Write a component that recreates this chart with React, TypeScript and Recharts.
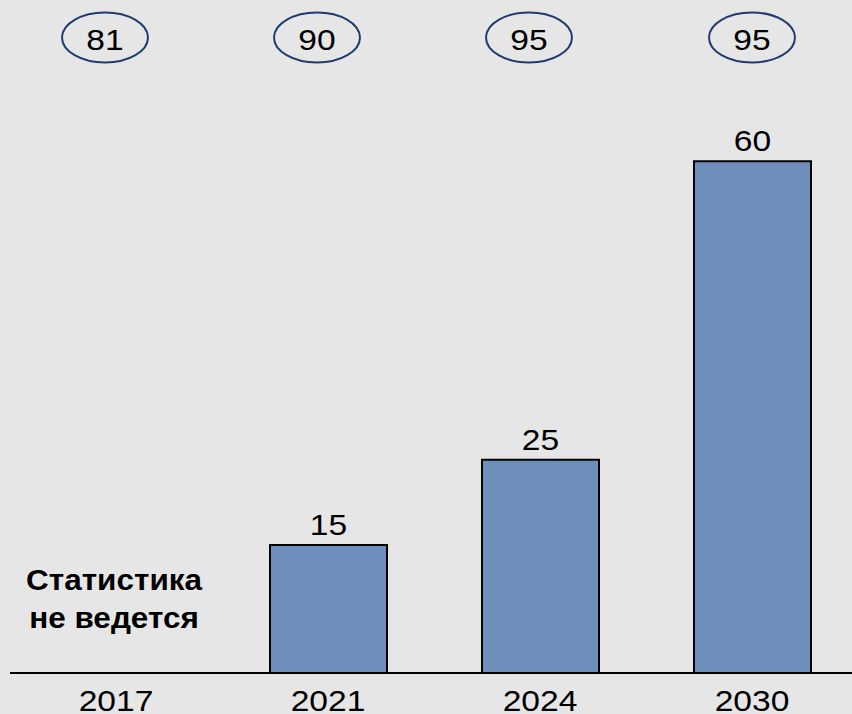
import React from 'react';
import { BarChart, Bar, XAxis, YAxis, LabelList } from 'recharts';

const years = ['2017', '2021', '2024', '2030'];
const barValues: (number | null)[] = [null, 15, 25, 60];
const topValues = [81, 90, 95, 95];
const noDataNote = ['Статистика', 'не ведется'];

const ellipseDx = [-11, -11, -11, 0];

const data = years.map((year, i) => ({ year, value: barValues[i], top: topValues[i] }));

const FONT = '"Liberation Sans", Arial, sans-serif';

const SText = ({ x, y, children, size = 30, sx = 1.12, bold = false }: any) => (
  <text
    transform={`translate(${x},${y}) scale(${sx},1)`}
    x={0}
    y={0}
    textAnchor="middle"
    fontSize={size}
    fontWeight={bold ? 'bold' : 'normal'}
    fontFamily={FONT}
    fill="#000"
  >
    {children}
  </text>
);

const BottomTick = (props: any) => {
  const { x, y, payload, index } = props;
  const v = barValues[index];
  return (
    <g>
      <SText x={x} y={y + 37.5}>{payload.value}</SText>
      {v == null && (
        <g>
          <SText x={x - 2} y={y - 83} size={30} sx={1.05} bold>{noDataNote[0]}</SText>
          <SText x={x - 2} y={y - 45} size={30} sx={1.05} bold>{noDataNote[1]}</SText>
        </g>
      )}
    </g>
  );
};

const TopTick = (props: any) => {
  const { x, index } = props;
  const cx = x + ellipseDx[index];
  return (
    <g>
      <ellipse cx={cx} cy={37.5} rx={43} ry={25} fill="none" stroke="#1f3c6e" strokeWidth={2} />
      <SText x={cx} y={50}>{topValues[index]}</SText>
    </g>
  );
};

const BarLabel = (props: any) => {
  const { x, y, width, value } = props;
  if (value == null) return null;
  return <SText x={Number(x) + Number(width) / 2} y={Number(y) - 10}>{value}</SText>;
};

export default function App() {
  return (
    <div
      style={{
        position: 'absolute',
        left: 0,
        top: 0,
        width: 852,
        height: 714,
        overflow: 'hidden',
        background: '#e6e6e6',
      }}
    >
      <BarChart
        width={858}
        height={714}
        data={data}
        margin={{ top: 0, right: 0, bottom: 0, left: 10 }}
      >
        <XAxis
          xAxisId="top"
          orientation="top"
          dataKey="year"
          height={76}
          axisLine={false}
          tickLine={false}
          tickSize={0}
          tickMargin={0}
          tick={<TopTick />}
          interval={0}
        />
        <XAxis
          dataKey="year"
          height={41}
          axisLine={{ stroke: '#000', strokeWidth: 2 }}
          tickLine={false}
          tickSize={0}
          tickMargin={0}
          tick={<BottomTick />}
          interval={0}
        />
        <YAxis hide domain={[0, 70]} />
        <Bar
          dataKey="value"
          fill="#6e8ebb"
          stroke="#000"
          strokeWidth={2}
          barSize={117}
          isAnimationActive={false}
        >
          <LabelList dataKey="value" position="top" content={<BarLabel />} />
        </Bar>
      </BarChart>
    </div>
  );
}
